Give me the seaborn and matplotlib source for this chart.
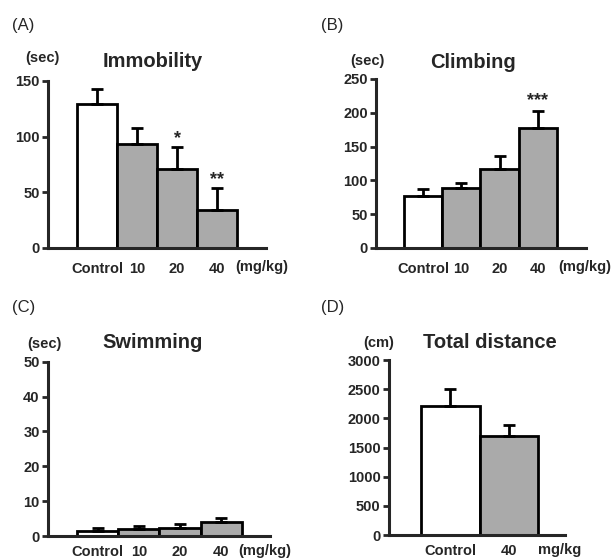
import matplotlib
matplotlib.use("Agg")
import matplotlib.pyplot as plt
import seaborn as sns
import pandas as pd

sns.set_style("ticks")
plt.rcParams['font.family'] = ['Liberation Sans', 'DejaVu Sans']

# ---- data ----
cats4 = ["Control", "10", "20", "40"]
cats2 = ["Control", "40"]

immobility = [129, 93, 71, 34]
immobility_sem = [14, 15, 20, 20]
climbing = [77, 89, 117, 178]
climbing_sem = [10, 7, 19, 24]
swimming = [1.4, 1.9, 2.2, 4.1]
swimming_sem = [0.8, 1.1, 1.2, 1.2]
distance = [2217, 1703]
distance_sem = [290, 188]

imm_stars = {"20": "*", "40": "**"}
clm_stars = {"40": "***"}

WHITE = "#ffffff"
GRAY = "#aaaaaa"

fig = plt.figure(figsize=(6.16, 5.59), dpi=100)

def panel(rect, cats, vals, sems, ylim, yticks, xlim, title, title_xy, unit, unit_xy,
          dose_label, dose_x, stars=None, star_gap=0.0, xpad=10):
    ax = fig.add_axes(rect)
    df = pd.DataFrame({"group": cats, "value": vals})
    pal = {c: (WHITE if c == "Control" else GRAY) for c in cats}
    sns.barplot(data=df, x="group", y="value", hue="group", order=cats,
                palette=pal, legend=False, width=1.0, edgecolor="black",
                linewidth=2.0, errorbar=None, ax=ax, saturation=1)
    pos = list(range(len(cats)))
    ax.errorbar(pos, vals, yerr=[[0] * len(vals), sems], fmt="none",
                ecolor="black", elinewidth=2.0, capsize=4.5, capthick=2.0, zorder=1)
    if stars:
        for c, s in stars.items():
            i = cats.index(c)
            ax.text(i, vals[i] + sems[i] + star_gap, s, ha="center", va="bottom",
                    fontsize=13, fontweight="bold")
    ax.set_ylim(*ylim)
    ax.set_yticks(yticks)
    ax.set_xlim(*xlim)
    ax.set_xlabel("")
    ax.set_ylabel("")
    sns.despine(ax=ax)
    for sp in ["left", "bottom"]:
        ax.spines[sp].set_linewidth(2.2)
    ax.tick_params(axis="y", length=4, width=2.0, labelsize=10.5, pad=2)
    ax.tick_params(axis="x", length=0, labelsize=10.5, pad=xpad)
    for lab in ax.get_xticklabels() + ax.get_yticklabels():
        lab.set_fontweight("bold")
    ax.text(title_xy[0], title_xy[1], title, transform=ax.transAxes, ha="center",
            va="baseline", fontsize=14.5, fontweight="bold")
    ax.text(unit_xy[0], unit_xy[1], unit, transform=ax.transAxes, ha="center",
            va="baseline", fontsize=10.5, fontweight="bold")
    ax.annotate(dose_label, xy=(dose_x, 0), xycoords="axes fraction",
                xytext=(0, -(xpad - 1)), textcoords="offset points", ha="left", va="top",
                fontsize=10.5, fontweight="bold", annotation_clip=False)
    return ax

panel([0.0779, 0.5564, 0.354, 0.2987], cats4, immobility, immobility_sem,
      (0, 150), [0, 50, 100, 150], (-1.225, 4.225), "Immobility", (0.48, 1.084),
      "(sec)", (-0.025, 1.114), "(mg/kg)", 0.858, imm_stars, 0)

panel([0.6104, 0.5564, 0.3409, 0.3023], cats4, climbing, climbing_sem,
      (0, 250), [0, 50, 100, 150, 200, 250], (-1.23, 4.26), "Climbing", (0.46, 1.065),
      "(sec)", (-0.04, 1.083), "(mg/kg)", 0.867, clm_stars, 4)

panel([0.0779, 0.0411, 0.3604, 0.3118], cats4, swimming, swimming_sem,
      (0, 50), [0, 10, 20, 30, 40, 50], (-1.2, 4.18), "Swimming", (0.47, 1.079),
      "(sec)", (-0.018, 1.079), "(mg/kg)", 0.856, xpad=6.5)

panel([0.6315, 0.0429, 0.2857, 0.313], cats2, distance, distance_sem,
      (0, 3000), [0, 500, 1000, 1500, 2000, 2500, 3000], (-1.047, 1.96),
      "Total distance", (0.572, 1.07), "(cm)", (-0.057, 1.076), "mg/kg", 0.847, xpad=6.5)

for lbl, x, y in [("(A)", 0.0195, 0.946), ("(B)", 0.521, 0.946),
                  ("(C)", 0.0195, 0.442), ("(D)", 0.521, 0.442)]:
    fig.text(x, y, lbl, fontsize=12, ha="left", va="baseline")

fig.savefig("out.png", dpi=100)
